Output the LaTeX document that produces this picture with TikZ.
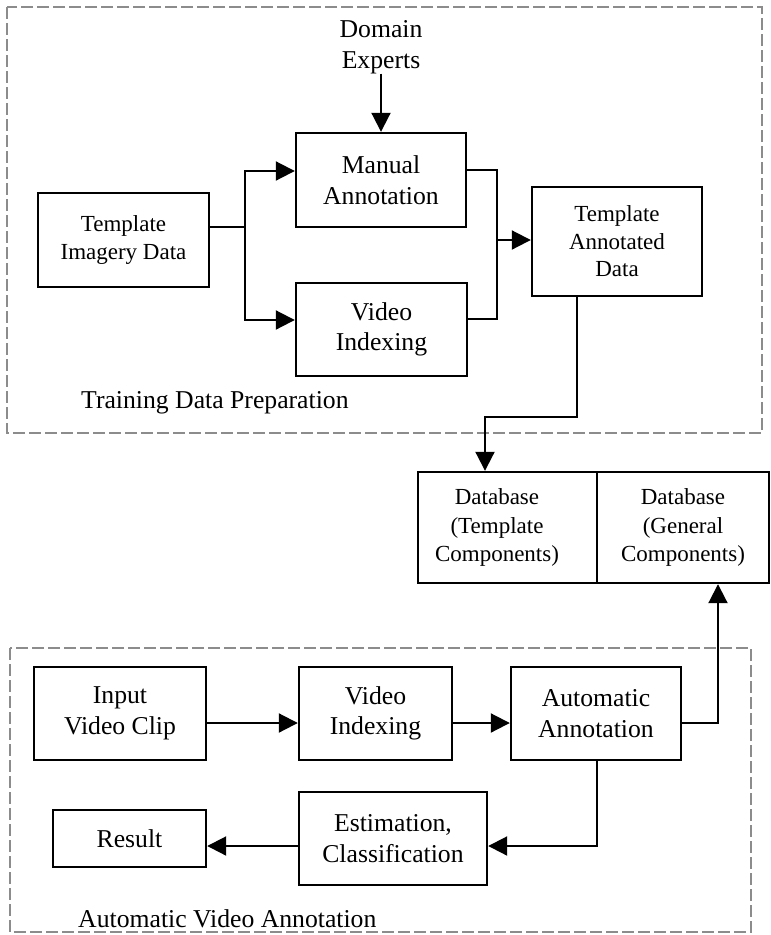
\documentclass[tikz,border=0pt]{standalone}
\usepackage{fontspec}
\setmainfont{Liberation Serif}
\usetikzlibrary{arrows.meta}
\begin{document}
\begin{tikzpicture}[x=1pt,y=-1pt,
  box/.style={draw=black,line width=2.4pt,rectangle,inner sep=0pt,align=center,
    font=\fontsize{25.7}{30.5}\selectfont},
  sbox/.style={box,font=\fontsize{23}{27.5}\selectfont},
  conn/.style={draw=black,line width=2pt},
  arr/.style={conn,-{Triangle[length=19pt,width=19pt]}},
  frame/.style={draw=black!45,line width=1.5pt,dash pattern=on 12pt off 4pt},
  lbl/.style={font=\fontsize{25.7}{30.5}\selectfont,inner sep=0pt}]
\useasboundingbox (0,0) rectangle (771,935);
\fill[white] (0,0) rectangle (771,935);

% group frames
\draw[frame] (7,7) rectangle (762,433);
\draw[frame] (10,648) rectangle (751,932);

% training data preparation
\node[lbl,align=center] (dom) at (381,47) {Domain\\Experts};
\node[box,minimum width=170pt,minimum height=94pt] (manual) at (381,180) {Manual\\Annotation};
\node[sbox,minimum width=171pt,minimum height=94pt] (tid) at (123.5,240) {Template\\Imagery Data};
\node[box,minimum width=171pt,minimum height=93pt] (vidx1) at (381.5,329.5) {Video\\Indexing};
\node[sbox,minimum width=170pt,minimum height=109pt] (tad) at (617,241.5) {Template\\Annotated\\Data};
\node[lbl,anchor=west] (tdp) at (81,403) {Training Data Preparation};

% database
\node[box,minimum width=179pt,minimum height=111pt] (dbl) at (507.5,527.5) {};
\node[box,minimum width=172pt,minimum height=111pt] (dbr) at (683,527.5) {};
\node[lbl,align=center,font=\fontsize{23}{28.5}\selectfont] (dbltext) at (497,527.5) {Database\\(Template\\Components)};
\node[lbl,align=center,font=\fontsize{23}{28.5}\selectfont] (dbrtext) at (683,527.5) {Database\\(General\\Components)};

% automatic video annotation
\node[box,minimum width=172pt,minimum height=93pt] (input) at (120,713.5) {Input\\Video Clip};
\node[box,minimum width=153pt,minimum height=93pt] (vidx2) at (375.5,713.5) {Video\\Indexing};
\node[box,minimum width=170pt,minimum height=93pt] (auto) at (596,713.5) {Automatic\\Annotation};
\node[box,minimum width=188pt,minimum height=93pt] (est) at (393,838.5) {Estimation,\\Classification};
\node[box,minimum width=153pt,minimum height=57pt] (result) at (129.5,838.5) {Result};
\node[lbl,anchor=west] (ava) at (78,919) {Automatic Video Annotation};

% connectors, upper part
\draw[arr] (dom.south -| manual.north) -- (manual.north);
\coordinate (jl) at (245,227);
\coordinate (ju) at (245,171);
\coordinate (jd) at (245,320);
\draw[conn] (tid.east |- jl) -- (jl);
\draw[arr] (jl) -- (ju) -- (manual.west |- ju);
\draw[arr] (jl) -- (jd) -- (vidx1.west |- jd);
\coordinate (ru) at (497,170);
\coordinate (rd) at (497,319);
\coordinate (rm) at (497,240);
\draw[conn] (manual.east |- ru) -- (ru) -- (rd) -- (vidx1.east |- rd);
\draw[arr] (rm) -- (tad.west |- rm);
\coordinate (t1) at (577,417);
\coordinate (t2) at (485,417);
\draw[arr] (tad.south -| t1) -- (t1) -- (t2) -- (dbl.north -| t2);

% connectors, lower part
\coordinate (row) at (0,723);
\draw[arr] (input.east |- row) -- (vidx2.west |- row);
\draw[arr] (vidx2.east |- row) -- (auto.west |- row);
\coordinate (up) at (718,723);
\draw[arr] (auto.east |- up) -- (up) -- (dbr.south -| up);
\coordinate (dn) at (597,846);
\draw[arr] (auto.south -| dn) -- (dn) -- (est.east |- dn);
\draw[arr] (est.west |- dn) -- (result.east |- dn);
\end{tikzpicture}
\end{document}
